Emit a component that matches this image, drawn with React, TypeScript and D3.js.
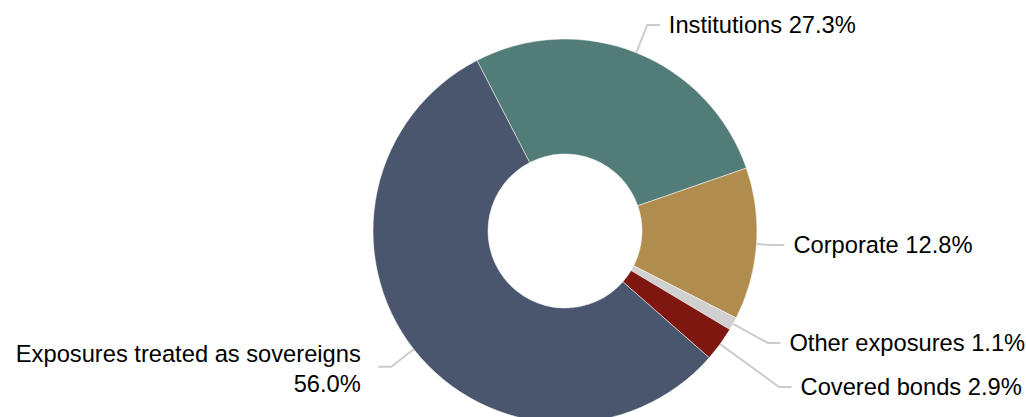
import React, { useEffect } from "react";
import * as d3 from "d3";

const categories = [
  "Institutions",
  "Corporate",
  "Other exposures",
  "Covered bonds",
  "Exposures treated as sovereigns",
];
const values = [27.3, 12.8, 1.1, 2.9, 56.0];
const colors = ["#527c78", "#b08c4e", "#d0d0d0", "#7e1710", "#4a556e"];

// layout (not data)
const W = 1026;
const H = 417;
const CX = 565;
const CY = 231;
const R_OUT = 192;
const R_IN = 77;
const START_DEG = -27.3;
const labelLineY = [25, 245.1, 343, 387, 366.7];
const FONT = 23.7;

export default function App() {
  useEffect(() => {
    document.body.style.margin = "0";
  }, []);

  const pie = d3
    .pie<number>()
    .sort(null)
    .value((d) => d)
    .startAngle((START_DEG * Math.PI) / 180)
    .endAngle((START_DEG * Math.PI) / 180 + 2 * Math.PI);
  const arcs = pie(values);
  const arc = d3.arc<d3.PieArcDatum<number>>().innerRadius(R_IN).outerRadius(R_OUT);

  return (
    <svg width={W} height={H} style={{ display: "block" }} fontFamily="'Liberation Sans', Arial, sans-serif">
      <g transform={`translate(${CX},${CY})`}>
        {arcs.map((a, i) => (
          <path key={i} d={arc(a) || ""} fill={colors[i]} stroke="#ffffff" strokeWidth={0.5} />
        ))}
      </g>
      {arcs.map((a, i) => {
        const mid = (a.startAngle + a.endAngle) / 2;
        const dx = Math.sin(mid);
        const dy = -Math.cos(mid);
        const sx = CX + R_OUT * dx;
        const sy = CY + R_OUT * dy;
        const ly = labelLineY[i];
        const t = (ly - CY) / dy;
        const ex = CX + t * dx;
        const right = dx >= 0;
        const hx = ex + (right ? 12.5 : -13);
        const tx = right ? hx + 9 : hx - 17.5;
        const name = categories[i];
        const pct = values[i].toFixed(1) + "%";
        return (
          <g key={i}>
            <polyline
              points={`${sx},${sy} ${ex},${ly} ${hx},${ly}`}
              fill="none"
              stroke="#cccccc"
              strokeWidth={2}
            />
            {right ? (
              <text x={tx} y={ly + 8} fontSize={FONT} fill="#000">
                {`${name} ${pct}`}
              </text>
            ) : (
              <text x={tx} y={ly - 5} fontSize={FONT} fill="#000" textAnchor="end">
                <tspan x={tx} y={ly - 5}>{name}</tspan>
                <tspan x={tx} y={ly + 25}>{pct}</tspan>
              </text>
            )}
          </g>
        );
      })}
    </svg>
  );
}
